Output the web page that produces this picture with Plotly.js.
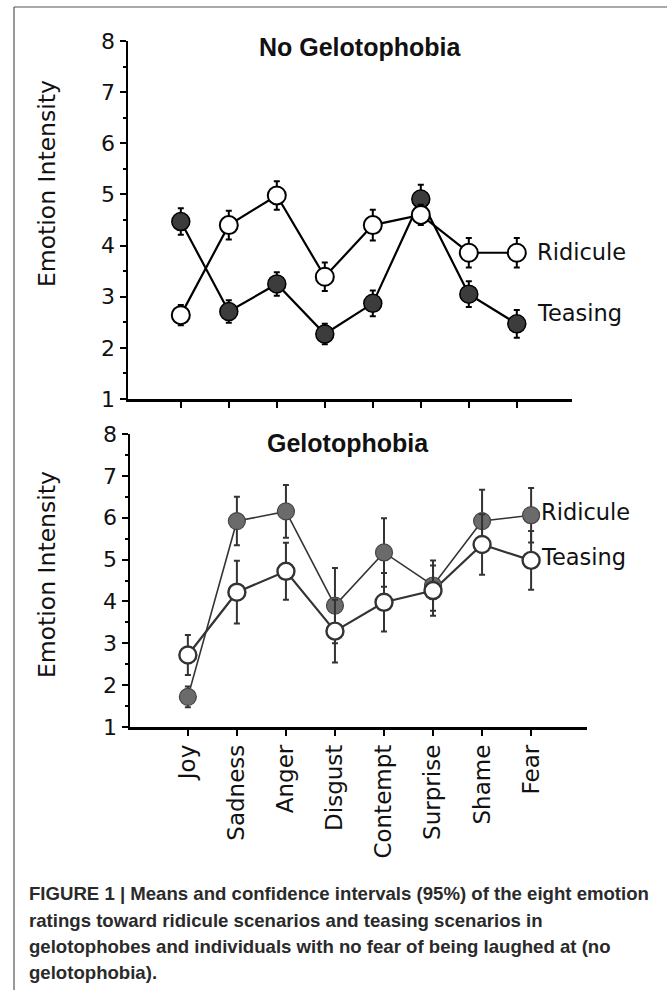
<!DOCTYPE html>
<html>
<head>
<meta charset="utf-8">
<script src="https://cdn.plot.ly/plotly-3.0.1.min.js"></script>
<style>html,body{margin:0;padding:0;background:#fff;}#chart{width:667px;height:990px;}</style>
</head>
<body>
<div id="chart"></div>
<script>
// ---- data ----
const emotions = ["Joy","Sadness","Anger","Disgust","Contempt","Surprise","Shame","Fear"];
const yTicks = [1,2,3,4,5,6,7,8];

// No Gelotophobia panel
const noGeloRidicule    = [2.64, 4.40, 4.98, 3.39, 4.40, 4.60, 3.86, 3.86];
const noGeloRidiculeCI  = [0.20, 0.28, 0.28, 0.28, 0.30, 0.20, 0.29, 0.29];
const noGeloTeasing     = [4.47, 2.71, 3.25, 2.27, 2.87, 4.91, 3.05, 2.47];
const noGeloTeasingCI   = [0.26, 0.22, 0.23, 0.20, 0.25, 0.28, 0.25, 0.27];

// Gelotophobia panel
const geloRidicule      = [1.72, 5.92, 6.15, 3.90, 5.17, 4.38, 5.92, 6.06];
const geloRidiculeCI    = [0.25, 0.58, 0.63, 0.90, 0.82, 0.60, 0.75, 0.65];
const geloTeasing       = [2.72, 4.22, 4.72, 3.29, 3.98, 4.26, 5.36, 4.98];
const geloTeasingCI     = [0.48, 0.75, 0.68, 0.75, 0.70, 0.60, 0.72, 0.70];

const captionLines = [
  "FIGURE 1 | Means and confidence intervals (95%) of the eight emotion",
  "ratings toward ridicule scenarios and teasing scenarios in",
  "gelotophobes and individuals with no fear of being laughed at (no",
  "gelotophobia)."
];

// ---- layout helpers (pixel -> paper) ----
const W = 667, H = 990;
const px = x => x / W;
const py = y => 1 - y / H;

const tickFont = {family: "DejaVu Sans", size: 22, color: "#111"};

function lineTrace(y, xa, ya, color, width) {
  return {x: emotions, y: y, xaxis: xa, yaxis: ya, type: "scatter", mode: "lines",
          line: {color: color, width: width}, hoverinfo: "skip", showlegend: false};
}
function markTrace(y, ci, xa, ya, fill, lineColor, lineWidth, size, ecolor) {
  return {x: emotions, y: y, xaxis: xa, yaxis: ya, type: "scatter", mode: "markers",
          marker: {color: fill, size: size, line: {color: lineColor, width: lineWidth}},
          error_y: {type: "data", array: ci, visible: true, color: ecolor, thickness: 2, width: 3},
          showlegend: false};
}

const traces = [
  // top panel
  lineTrace(noGeloTeasing, "x", "y", "#000", 2.2),
  lineTrace(noGeloRidicule, "x", "y", "#000", 2.2),
  markTrace(noGeloTeasing, noGeloTeasingCI, "x", "y", "#3c3c3c", "#000", 1.5, 18, "#000"),
  markTrace(noGeloRidicule, noGeloRidiculeCI, "x", "y", "#fff", "#000", 2, 18, "#000"),
  // bottom panel
  lineTrace(geloRidicule, "x2", "y2", "#333", 1.6),
  lineTrace(geloTeasing, "x2", "y2", "#333", 2.2),
  markTrace(geloRidicule, geloRidiculeCI, "x2", "y2", "#6b6b6b", "#444", 1.2, 17, "#333"),
  markTrace(geloTeasing, geloTeasingCI, "x2", "y2", "#fff", "#333", 2.4, 17, "#333")
];

const yBase = {
  range: [1, 8], tickvals: yTicks, ticktext: yTicks.map(String),
  showline: true, linecolor: "#000", linewidth: 2.5, showgrid: false, zeroline: false,
  ticks: "outside", ticklen: 6, tickwidth: 2, tickcolor: "#000", tickfont: tickFont,
  minor: {dtick: 0.5, tick0: 1, ticks: "outside", ticklen: 3, tickwidth: 2, tickcolor: "#000", showgrid: false},
  fixedrange: true
};
const xBase = {
  type: "category", categoryorder: "array", categoryarray: emotions,
  showline: true, linecolor: "#000", linewidth: 2.5, showgrid: false, zeroline: false,
  ticks: "outside", ticklen: 6, tickwidth: 2, tickcolor: "#000", fixedrange: true
};

function txt(text, x, y, size, opts) {
  return Object.assign({text: text, xref: "paper", yref: "paper", x: px(x), y: py(y),
    xanchor: "center", yanchor: "middle", showarrow: false,
    font: {family: "DejaVu Sans", size: size, color: "#111"}}, opts || {});
}

const annotations = [
  txt("<b>No Gelotophobia</b>", 360, 47, 25, {font: {family: "Liberation Sans", size: 25, color: "#111"}}),
  txt("<b>Gelotophobia</b>", 348, 443, 25, {font: {family: "Liberation Sans", size: 25, color: "#111"}}),
  txt("Emotion Intensity", 47, 184, 23.5, {textangle: -90}),
  txt("Emotion Intensity", 47, 575, 23.5, {textangle: -90}),
  txt("Ridicule", 535, 252, 22.5, {xanchor: "left"}),
  txt("Teasing", 535, 313, 22.5, {xanchor: "left"}),
  txt("Ridicule", 539, 512, 22.5, {xanchor: "left"}),
  txt("Teasing", 539, 557, 22.5, {xanchor: "left"})
];
const captionY = [893, 920, 946, 972];
captionLines.forEach((line, i) => {
  annotations.push(txt("<b>" + line + "</b>", 27, captionY[i], 18.6,
    {xanchor: "left", font: {family: "Liberation Sans", size: 18.6, color: "#2a2a2a"}}));
});

const layout = {
  width: W, height: H,
  margin: {l: 0, r: 0, t: 0, b: 0},
  paper_bgcolor: "#fff", plot_bgcolor: "rgba(0,0,0,0)",
  showlegend: false,
  xaxis: Object.assign({}, xBase, {domain: [px(128), px(572)], range: [-1.1, 8.15],
         anchor: "y", showticklabels: false}),
  yaxis: Object.assign({}, yBase, {domain: [py(399), py(41)], anchor: "x"}),
  xaxis2: Object.assign({}, xBase, {domain: [px(130), px(587)], range: [-1.18, 8.14],
         anchor: "y2", showticklabels: true, tickangle: -90,
         tickfont: {family: "DejaVu Sans", size: 23, color: "#111"}}),
  yaxis2: Object.assign({}, yBase, {domain: [py(727), py(434)], anchor: "x2"}),
  shapes: [
    {type: "line", xref: "paper", yref: "paper", x0: px(14), x1: 1, y0: py(7), y1: py(7),
     line: {color: "#555", width: 1.2}},
    {type: "line", xref: "paper", yref: "paper", x0: px(14), x1: px(14), y0: py(7), y1: 0,
     line: {color: "#555", width: 1.2}}
  ],
  annotations: annotations
};

Plotly.newPlot("chart", traces, layout, {displayModeBar: false, staticPlot: true});
</script>
</body>
</html>
